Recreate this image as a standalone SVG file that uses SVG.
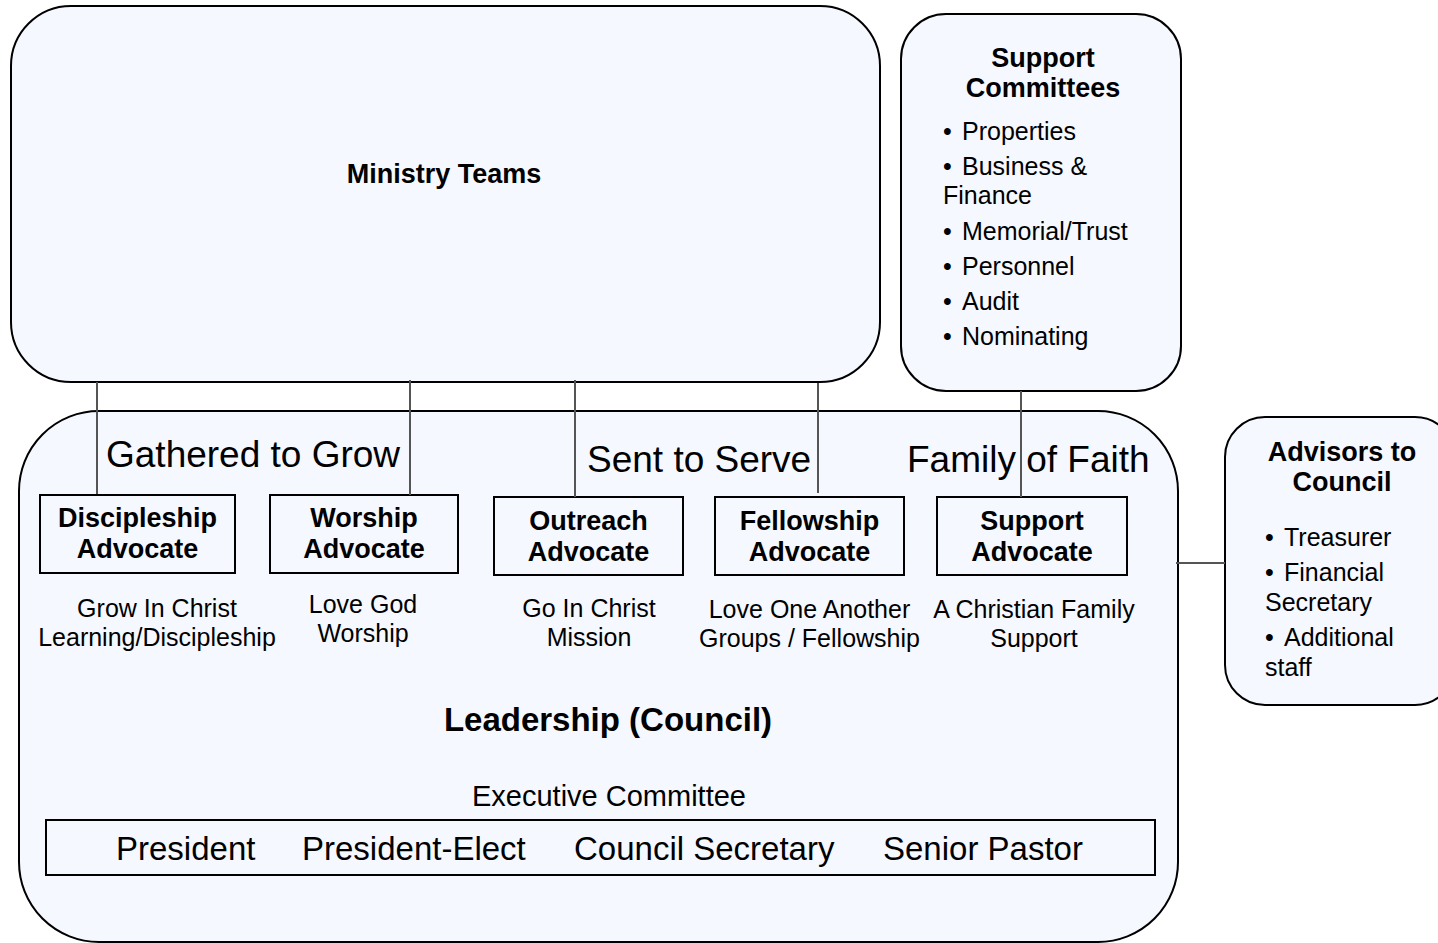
<svg xmlns="http://www.w3.org/2000/svg" width="1438" height="943" viewBox="0 0 1438 943">
<style>
.box{fill:#F5F8FF;stroke:#000;stroke-width:2}
.adv{fill:none;stroke:#000;stroke-width:2}
.conn{stroke:#555;stroke-width:2;fill:none}
text{font-family:"Liberation Sans",Arial,sans-serif;fill:#000}
.b26{font-size:27px;font-weight:bold}
.r24{font-size:25px}
.r36{font-size:37px}
.mid{text-anchor:middle}
</style>
<rect width="1438" height="943" fill="#fff"/>
<g id="leadership">
<rect class="box" x="19" y="411" width="1159" height="531" rx="80" ry="80"/>
<text class="r36" x="106" y="467">Gathered to Grow</text>
<text class="r36" x="587" y="472">Sent to Serve</text>
<text class="r36" x="907" y="472">Family of Faith</text>
<text class="mid" x="608" y="731" font-size="33" font-weight="bold">Leadership (Council)</text>
<text class="mid" x="609" y="806" font-size="29">Executive Committee</text>
</g>
<g id="executive">
<rect class="adv" x="46" y="820" width="1109" height="55"/>
<text x="116" y="860" font-size="33">President</text>
<text x="302" y="860" font-size="33">President-Elect</text>
<text x="574" y="860" font-size="33">Council Secretary</text>
<text x="883" y="860" font-size="33">Senior Pastor</text>
</g>
<g id="ministry">
<rect class="box" x="11" y="6" width="869" height="376" rx="60" ry="60"/>
<text class="b26 mid" x="444" y="183">Ministry Teams</text>
</g>
<g id="support-committees">
<rect class="box" x="901" y="14" width="280" height="377" rx="45" ry="45"/>
<text class="b26 mid" x="1043" y="67">Support</text>
<text class="b26 mid" x="1043" y="97">Committees</text>
<text class="r24" x="943" y="140">•<tspan x="962">Properties</tspan></text>
<text class="r24" x="943" y="175">•<tspan x="962">Business &amp;</tspan></text>
<text class="r24" x="943" y="204">Finance</text>
<text class="r24" x="943" y="240">•<tspan x="962">Memorial/Trust</tspan></text>
<text class="r24" x="943" y="275">•<tspan x="962">Personnel</tspan></text>
<text class="r24" x="943" y="310">•<tspan x="962">Audit</tspan></text>
<text class="r24" x="943" y="345">•<tspan x="962">Nominating</tspan></text>
</g>
<g id="advisors">
<rect class="box" x="1225" y="417" width="230" height="288" rx="40" ry="40"/>
<text class="b26 mid" x="1342" y="461">Advisors to</text>
<text class="b26 mid" x="1342" y="491">Council</text>
<text class="r24" x="1265" y="546">•<tspan x="1284">Treasurer</tspan></text>
<text class="r24" x="1265" y="581">•<tspan x="1284">Financial</tspan></text>
<text class="r24" x="1265" y="611">Secretary</text>
<text class="r24" x="1265" y="646">•<tspan x="1284">Additional</tspan></text>
<text class="r24" x="1265" y="676">staff</text>
</g>
<g id="discipleship">
<rect class="adv" x="40" y="495" width="195" height="78"/>
<text class="b26 mid" x="137.5" y="527">Discipleship</text>
<text class="b26 mid" x="137.5" y="558">Advocate</text>
<text class="r24 mid" x="157" y="617">Grow In Christ</text>
<text class="r24 mid" x="157" y="646">Learning/Discipleship</text>
</g>
<g id="worship">
<rect class="adv" x="270" y="495" width="188" height="78"/>
<text class="b26 mid" x="364" y="527">Worship</text>
<text class="b26 mid" x="364" y="558">Advocate</text>
<text class="r24 mid" x="363" y="613">Love God</text>
<text class="r24 mid" x="363" y="642">Worship</text>
</g>
<g id="outreach">
<rect class="adv" x="494" y="497" width="189" height="78"/>
<text class="b26 mid" x="588.5" y="530">Outreach</text>
<text class="b26 mid" x="588.5" y="561">Advocate</text>
<text class="r24 mid" x="589" y="617">Go In Christ</text>
<text class="r24 mid" x="589" y="646">Mission</text>
</g>
<g id="fellowship">
<rect class="adv" x="715" y="497" width="189" height="78"/>
<text class="b26 mid" x="809.5" y="530">Fellowship</text>
<text class="b26 mid" x="809.5" y="561">Advocate</text>
<text class="r24 mid" x="809.5" y="618">Love One Another</text>
<text class="r24 mid" x="809.5" y="647">Groups / Fellowship</text>
</g>
<g id="support-advocate">
<rect class="adv" x="937" y="497" width="190" height="78"/>
<text class="b26 mid" x="1032" y="530">Support</text>
<text class="b26 mid" x="1032" y="561">Advocate</text>
<text class="r24 mid" x="1034" y="618">A Christian Family</text>
<text class="r24 mid" x="1034" y="647">Support</text>
</g>
<g id="connectors">
<line class="conn" x1="97" y1="382" x2="97" y2="494"/>
<line class="conn" x1="410" y1="380" x2="410" y2="495"/>
<line class="conn" x1="575" y1="380" x2="575" y2="497"/>
<line class="conn" x1="818" y1="383" x2="818" y2="493"/>
<line class="conn" x1="1021" y1="391" x2="1021" y2="497"/>
<line class="conn" x1="1176" y1="563" x2="1225" y2="563" stroke="#000"/>
</g>
</svg>
